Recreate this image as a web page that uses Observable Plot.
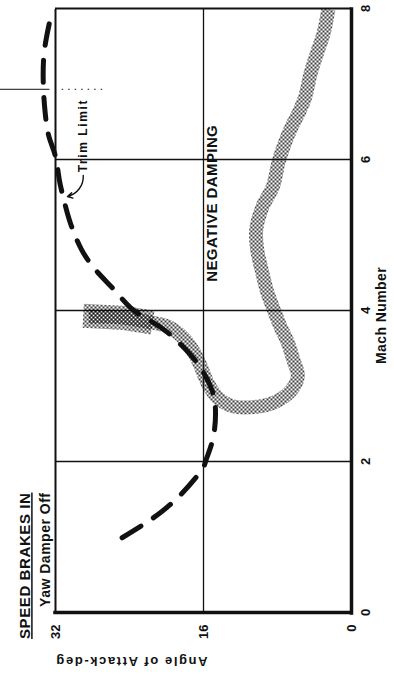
<!DOCTYPE html>
<html>
<head>
<meta charset="utf-8">
<script src="https://cdn.jsdelivr.net/npm/d3@7"></script>
<script src="https://cdn.jsdelivr.net/npm/@observablehq/plot@0.6"></script>
<style>
  html, body { margin: 0; padding: 0; background: #fff; width: 394px; height: 683px; overflow: hidden; }
  #chart { position: relative; width: 394px; height: 683px; }
  /* the chart is laid out landscape and turned a quarter-turn counterclockwise */
  #chart svg { position: absolute; left: 0; top: 0; transform-origin: 0 0;
               transform: translate(0, 683px) rotate(-90deg); max-width: none; }
</style>
</head>
<body>
<div id="chart"></div>
<script>
// Axis ticks
const machTicks = [0, 2, 4, 6, 8];
const alphaTicks = [0, 16, 32];

// Trim limit (dashed curve): Mach number vs angle of attack, deg
const trimMach  = [0.99, 1.23, 1.52, 1.87, 2.03, 2.29, 2.65, 2.95, 3.22, 3.44, 3.71, 3.88, 4.04, 4.28, 4.50, 4.81, 5.20, 5.47, 5.74, 6.04, 6.30, 6.60, 6.93, 7.30, 7.60, 7.90];
const trimAlpha = [24.8, 21.7, 18.8, 16.3, 15.7, 15.0, 14.7, 15.1, 16.2, 17.6, 19.9, 22.0, 23.9, 25.7, 27.4, 29.2, 30.5, 31.1, 31.6, 32.0, 32.7, 33.1, 33.3, 33.3, 33.0, 32.5];

// Negative damping boundary (stippled band)
const bandMach  = [3.92, 3.91, 3.85, 3.79, 3.64, 3.46, 3.26, 3.05, 2.85, 2.73, 2.72, 2.78, 2.93, 3.13, 3.35, 3.58, 3.79, 4.01, 4.24, 4.48, 4.81, 5.07, 5.38, 5.64, 5.96, 6.17, 6.40, 6.62, 6.83, 7.15, 7.42, 7.68, 7.99];
const bandAlpha = [28.4, 25.0, 22.0, 19.9, 18.2, 17.1, 16.3, 15.6, 14.5, 12.8, 10.6, 8.4, 6.6, 5.8, 6.3, 6.9, 7.7, 8.4, 9.1, 9.6, 10.2, 10.3, 9.6, 8.5, 7.9, 7.35, 6.6, 5.7, 5.0, 4.4, 3.7, 3.0, 2.5];
// wider smudge at the high-alpha end of the band
const bandEndMach  = [3.93, 3.90, 3.84];
const bandEndAlpha = [29.0, 24.5, 21.5];

// Trim-limit peak reference mark
const peakMach = [6.93];

// Labels
const titleText = "SPEED BRAKES IN";
const subtitleText = "Yaw Damper Off";
const xLabel = "Mach Number";
const yLabel = "Angle of Attack-deg";
const regionLabel = "NEGATIVE DAMPING";
const trimLabel = "Trim Limit";

const trim = trimMach.map((m, i) => ({mach: m, alpha: trimAlpha[i]}));
const band = bandMach.map((m, i) => ({mach: m, alpha: bandAlpha[i]}));
const bandEnd = bandEndMach.map((m, i) => ({mach: m, alpha: bandEndAlpha[i]}));

const ink = "#111";
const font = "'Liberation Sans', Arial, Helvetica, sans-serif";
const txt = d => d;

const svg = Plot.plot({
  width: 683,
  height: 394,
  marginLeft: 70,
  marginRight: 9,
  marginTop: 55,
  marginBottom: 43,
  style: {fontFamily: font, fontSize: "13px", fontWeight: "bold", color: ink, background: "#fff", maxWidth: "none", overflow: "visible"},
  x: {domain: [0, 8], ticks: machTicks, tickSize: 0, tickPadding: 9, label: null},
  y: {domain: [0, 32], ticks: alphaTicks, tickSize: 0, tickPadding: 12, label: null},
  marks: [
    // stippled band
    Plot.line(bandEnd, {x: "mach", y: "alpha", stroke: "url(#stipple)", strokeWidth: 24, strokeLinecap: "butt", strokeLinejoin: "round"}),
    Plot.line(band, {x: "mach", y: "alpha", curve: "catmull-rom", stroke: "url(#stipple)", strokeWidth: 14, strokeLinecap: "butt", strokeLinejoin: "round"}),

    // grid
    Plot.ruleX([2, 4, 6], {stroke: ink, strokeWidth: 1.6}),
    Plot.ruleY([16], {stroke: ink, strokeWidth: 1.3}),
    // frame
    Plot.ruleX([8], {stroke: ink, strokeWidth: 2}),
    Plot.ruleY([32], {stroke: ink, strokeWidth: 2}),
    Plot.ruleX([0], {stroke: ink, strokeWidth: 3.5, strokeLinecap: "square"}),
    Plot.ruleY([0], {stroke: ink, strokeWidth: 3.5, strokeLinecap: "square"}),

    // peak mark of the trim limit
    Plot.ruleX(peakMach, {y1: 32.6, y2: 38, stroke: ink, strokeWidth: 1}),
    Plot.ruleX(peakMach, {y1: 26.9, y2: 31.3, stroke: ink, strokeWidth: 1, strokeDasharray: "1.5,5"}),

    // trim limit
    Plot.line(trim, {x: "mach", y: "alpha", curve: "natural", stroke: ink, strokeWidth: 5, strokeDasharray: "22,15", strokeLinecap: "round"}),

    // annotations
    Plot.text([trimLabel], {text: txt, x: 5.83, y: 29.0, textAnchor: "start", fontSize: 12, fill: ink}),
    Plot.arrow([trimLabel], {x1: 5.79, y1: 29.0, x2: 5.51, y2: 30.7, bend: 40, stroke: ink, strokeWidth: 1.4, headLength: 6}),
    Plot.text([regionLabel], {text: txt, x: 5.42, y: 15.1, textAnchor: "middle", fontSize: 15, fill: ink}),

    // titles and axis labels
    Plot.text([titleText], {text: txt, frameAnchor: "top-left", textAnchor: "end", dx: 120, dy: -36, fontSize: 15, fill: ink}),
    Plot.text([subtitleText], {text: txt, frameAnchor: "top-left", textAnchor: "end", dx: 120, dy: -15, fontSize: 14, fill: ink}),
    Plot.text([xLabel], {text: txt, frameAnchor: "bottom", dx: -5, dy: 34, fontSize: 14, fill: ink}),
    Plot.text([yLabel], {text: txt, frameAnchor: "left", rotate: -90, dx: -49, dy: 4, fontSize: 13, fill: ink})
  ]
});

// stipple pattern used by the band
const defs = d3.select(svg).insert("defs", ":first-child");
const pat = defs.append("pattern")
  .attr("id", "stipple")
  .attr("patternUnits", "userSpaceOnUse")
  .attr("width", 4)
  .attr("height", 4);
pat.append("circle").attr("cx", 1).attr("cy", 1).attr("r", 1).attr("fill", "#000");
pat.append("circle").attr("cx", 3).attr("cy", 3).attr("r", 1).attr("fill", "#000");

// lettering details
const spacing = {
  [titleText]: "0.6px",
  [subtitleText]: "0.5px",
  [xLabel]: "0.4px",
  [yLabel]: "1.6px",
  [trimLabel]: "1.6px",
  [regionLabel]: "0.4px"
};
d3.select(svg).selectAll("text").each(function () {
  const s = spacing[this.textContent];
  if (s) this.setAttribute("letter-spacing", s);
  if (this.textContent === titleText) this.setAttribute("text-decoration", "underline");
});

document.getElementById("chart").appendChild(svg);
</script>
</body>
</html>
